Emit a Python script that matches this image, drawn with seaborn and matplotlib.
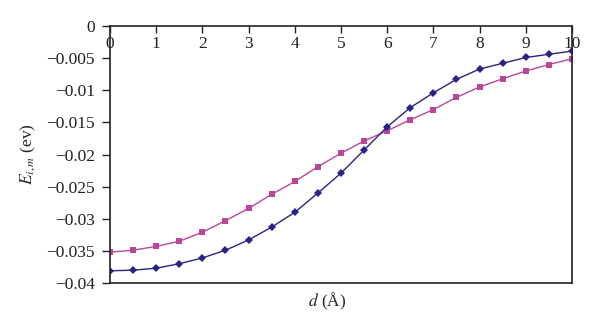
import numpy as np
import pandas as pd
import matplotlib
matplotlib.use("Agg")
import matplotlib.pyplot as plt
import seaborn as sns
from matplotlib.ticker import FuncFormatter

# distance d (Angstrom)
d_vals = [0, 0.5, 1, 1.5, 2, 2.5, 3, 3.5, 4, 4.5, 5, 5.5, 6, 6.5, 7, 7.5, 8, 8.5, 9, 9.5, 10]
# blue diamonds
e_blue = [-0.0381, -0.0380, -0.0377, -0.0370, -0.0361, -0.0349, -0.0333, -0.0313, -0.0290, -0.0260,
          -0.0229, -0.0193, -0.0157, -0.0127, -0.0104, -0.0083, -0.0067, -0.0058, -0.0049, -0.0044, -0.0039]
# pink squares
e_pink = [-0.0352, -0.0349, -0.0343, -0.0335, -0.0321, -0.0303, -0.0284, -0.0262, -0.0242, -0.0219,
          -0.0198, -0.0179, -0.0163, -0.0146, -0.0130, -0.0111, -0.0095, -0.0082, -0.0070, -0.0060, -0.0051]

df = pd.DataFrame({"d": d_vals, "blue": e_blue, "pink": e_pink})

sns.set_style("white")
plt.rcParams['font.family'] = ['Liberation Serif', 'DejaVu Serif']
plt.rcParams['mathtext.fontset'] = 'stix'

fig = plt.figure(figsize=(6, 3.28), dpi=100)
ax = fig.add_axes([0.1833, 0.1372, 0.77, 0.7835])

sns.lineplot(data=df, x="d", y="pink", ax=ax, color="#b8479a", marker="s", markersize=5,
             markeredgewidth=0, linewidth=1.0)
sns.lineplot(data=df, x="d", y="blue", ax=ax, color="#2b2383", marker="D", markersize=4.5,
             markeredgewidth=0, linewidth=1.0)

ax.set_xlim(0, 10)
ax.set_ylim(-0.04, 0)
ax.set_xticks(range(0, 11))
ax.set_yticks(np.arange(-0.04, 0.0001, 0.005))
ax.yaxis.set_major_formatter(FuncFormatter(lambda v, p: "0" if abs(v) < 1e-9 else ("%g" % v).replace("-", "\u2212")))

ax.xaxis.tick_top()
ax.tick_params(axis='x', direction='in', length=5, width=1, pad=-19, labelsize=12.5, colors='#222222')
ax.tick_params(axis='y', direction='out', length=6, width=1, pad=5, labelsize=12.5, colors='#222222', left=True)
for s in ax.spines.values():
    s.set_color('#222222')
    s.set_linewidth(1.2)

ax.set_xlabel("$d$ (Å)", fontsize=12.5)
ax.xaxis.set_label_position('bottom')
ax.xaxis.set_label_coords(0.47, -0.03)
ax.set_ylabel("$E_{i,m}$ (ev)", fontsize=12.5, labelpad=6)

fig.savefig("out.png", dpi=100)
